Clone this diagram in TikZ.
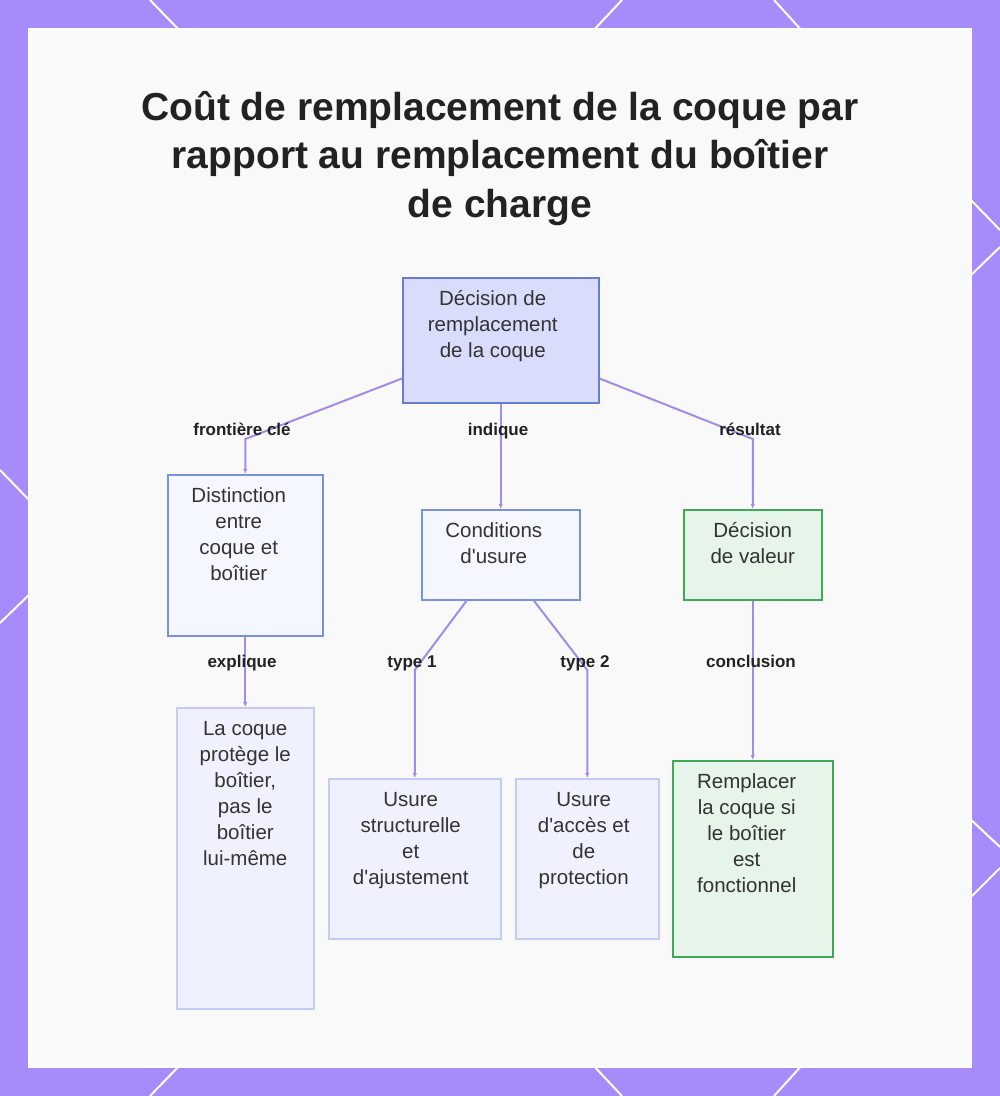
\documentclass[tikz,border=0pt]{standalone}
\usepackage{fontspec}
\setmainfont{Liberation Sans}
\usetikzlibrary{arrows.meta,calc}

\definecolor{framepurple}{RGB}{167,139,250}
\definecolor{cardbg}{RGB}{249,249,250}
\definecolor{edgepurple}{RGB}{163,139,234}
\definecolor{inktext}{RGB}{51,51,51}
\definecolor{inktitle}{RGB}{34,34,34}
\definecolor{rootfill}{RGB}{217,220,251}
\definecolor{rootdraw}{RGB}{104,123,214}
\definecolor{midfill}{RGB}{245,247,254}
\definecolor{middraw}{RGB}{122,145,222}
\definecolor{leaffill}{RGB}{239,242,254}
\definecolor{leafdraw}{RGB}{196,204,244}
\definecolor{okfill}{RGB}{230,244,234}
\definecolor{okdraw}{RGB}{64,168,86}

% straight apostrophe
\newcommand\ap{\textquotesingle}
% box content: width, height, right-skip (shifts lines left by half), lines
\newcommand\boxtext[4]{\parbox[c][#2pt][t]{#1pt}{\centering\rightskip=#3pt plus 1fil\rule{0pt}{28pt}#4}}

\begin{document}
\begin{tikzpicture}[x=1pt,y=-1pt,
  hexline/.style={white, line width=2pt},
  boxbase/.style={draw, line width=1.5pt, inner sep=0pt, anchor=north west,
    text=inktext, font=\fontsize{20.5}{26}\selectfont},
  rootbox/.style={boxbase, fill=rootfill, draw=rootdraw},
  midbox/.style={boxbase, fill=midfill, draw=middraw},
  leafbox/.style={boxbase, fill=leaffill, draw=leafdraw},
  okbox/.style={boxbase, fill=okfill, draw=okdraw},
  link/.style={draw=edgepurple, line width=2pt, -{Latex[length=5pt,width=4.5pt]}},
  linklabel/.style={font=\fontsize{17}{20}\selectfont\bfseries, text=inktitle,
    inner sep=0pt, anchor=base},
]
\useasboundingbox (0,0) rectangle (1000,1096);

% purple frame with the white honeycomb strokes
\fill[framepurple] (0,0) rectangle (1000,1096);
\draw[hexline] (150,0) -- (182,33);
\draw[hexline] (622,0) -- (591,33);
\draw[hexline] (774,0) -- (804,33);
\draw[hexline] (150,1096) -- (182,1063);
\draw[hexline] (622,1096) -- (591,1063);
\draw[hexline] (774,1096) -- (804,1063);
\draw[hexline] (0,470) -- (33,504);
\draw[hexline] (0,623) -- (33,591);
\draw[hexline] (1000,230) -- (967,196);
\draw[hexline] (1000,247) -- (967,279);
\draw[hexline] (1000,847) -- (967,816);
\draw[hexline] (1000,868) -- (967,901);

% card
\draw[white, line width=2pt, fill=cardbg] (29,29) rectangle (971,1067);

% title
\node[font=\fontsize{39}{48.5}\selectfont\bfseries, text=inktitle, align=center,
  inner sep=0pt, anchor=north] (title) at (500,80)
  {\rule{0pt}{40pt}Coût de remplacement de la coque par\\
   rapport au remplacement du boîtier\\de charge};

% boxes
\node[rootbox] (root) at (402,277) {\boxtext{196}{125}{16}{Décision de\\remplacement\\de la coque}};
\node[midbox] (dist) at (167,474) {\boxtext{155}{161}{13}{Distinction\\entre\\coque et\\boîtier}};
\node[midbox] (cond) at (421,509) {\boxtext{158}{90}{14}{Conditions\\d\ap usure}};
\node[okbox] (val) at (683,509) {\boxtext{138}{90}{0}{Décision\\de valeur}};
\node[leafbox] (coque) at (176,707) {\boxtext{137}{301}{0}{La coque\\protège le\\boîtier,\\pas le\\boîtier\\lui-même}};
\node[leafbox] (us1) at (328,778) {\boxtext{172}{160}{8}{Usure\\structurelle\\et\\d\ap ajustement}};
\node[leafbox] (us2) at (515,778) {\boxtext{143}{160}{7}{Usure\\d\ap accès et\\de\\protection}};
\node[okbox] (rep) at (672,760) {\boxtext{160}{196}{12}{Remplacer\\la coque si\\le boîtier\\est\\fonctionnel}};

% connectors
\draw[link] ([yshift=25pt]root.south west) -- ([yshift=35pt]dist.north) -- (dist.north);
\draw[link] (root.south) -- (cond.north);
\draw[link] ([yshift=25pt]root.south east) -- ([yshift=70pt]val.north) -- (val.north);
\draw[link] (dist.south) -- (coque.north);
\draw[link] ([xshift=-34pt]cond.south) -- ([yshift=108pt]us1.north) -- (us1.north);
\draw[link] ([xshift=33pt]cond.south) -- ([yshift=108pt]us2.north) -- (us2.north);
\draw[link] (val.south) -- (rep.north);

% connector labels
\node[linklabel] (l1) at (242,435) {frontière clé};
\node[linklabel] (l2) at (498,435) {indique};
\node[linklabel] (l3) at (750,435) {résultat};
\node[linklabel] (l4) at (242,667) {explique};
\node[linklabel] (l5) at (412,667) {type 1};
\node[linklabel] (l6) at (585,667) {type 2};
\node[linklabel] (l7) at (751,667) {conclusion};
\end{tikzpicture}
\end{document}
